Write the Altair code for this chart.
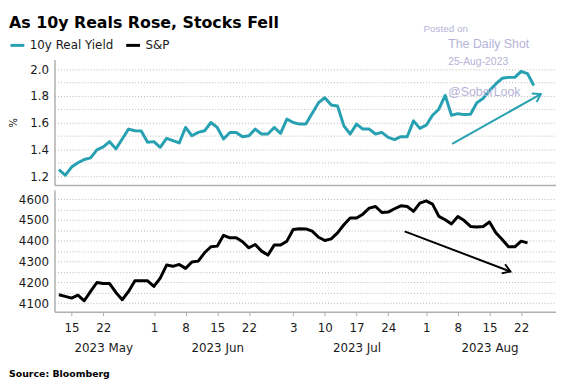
import altair as alt
import pandas as pd

# ---------------- data ----------------
start_date = "2023-05-11"   # first observation (weekday axis)

yield_values = [
    1.249, 1.207, 1.268, 1.300, 1.325, 1.337, 1.397, 1.419, 1.458, 1.404,
    1.478, 1.552, 1.539, 1.537, 1.453, 1.458, 1.416, 1.483, 1.466, 1.448,
    1.564, 1.502, 1.527, 1.539, 1.601, 1.564, 1.478, 1.527, 1.527, 1.495,
    1.502, 1.552, 1.515, 1.515, 1.564, 1.520, 1.626, 1.601, 1.589, 1.589,
    1.670, 1.749, 1.786, 1.732, 1.724, 1.576, 1.515, 1.589, 1.552, 1.552,
    1.515, 1.527, 1.490, 1.473, 1.495, 1.495, 1.613, 1.557, 1.581, 1.655,
    1.700, 1.803, 1.655, 1.667, 1.660, 1.663, 1.749, 1.781, 1.840, 1.889,
    1.931, 1.938, 1.938, 1.983, 1.966, 1.877,
]

spx_values = [
    4140, 4132, 4124, 4138, 4111, 4156, 4199, 4194, 4194, 4151,
    4116, 4156, 4207, 4207, 4207, 4180, 4220, 4283, 4277, 4286,
    4267, 4298, 4302, 4342, 4371, 4374, 4426, 4414, 4414, 4395,
    4366, 4382, 4350, 4331, 4379, 4379, 4398, 4454, 4458, 4457,
    4446, 4417, 4401, 4409, 4438, 4477, 4509, 4509, 4528, 4557,
    4565, 4536, 4538, 4554, 4568, 4565, 4541, 4581, 4592, 4576,
    4517, 4501, 4481, 4517, 4497, 4469, 4466, 4469, 4490, 4438,
    4406, 4371, 4371, 4398, 4390,
]

tick_dates = ["2023-05-15", "2023-05-22", "2023-06-01", "2023-06-08",
              "2023-06-15", "2023-06-22", "2023-07-03", "2023-07-10",
              "2023-07-17", "2023-07-24", "2023-08-01", "2023-08-08",
              "2023-08-15", "2023-08-22"]
month_labels = {"2023-05-22": "2023 May", "2023-06-15": "2023 Jun",
                "2023-07-17": "2023 Jul", "2023-08-15": "2023 Aug"}

yield_ticks = [1.2, 1.3, 1.4, 1.5, 1.6, 1.7, 1.8, 1.9, 2.0]
spx_ticks = [4100, 4150, 4200, 4250, 4300, 4350, 4400, 4450, 4500, 4550, 4600]
series_names = ["10y Real Yield", "S&P"]

# arrows (data units: weekday index, value)
yield_arrow = {"start_i": 62.1, "start_v": 1.442, "end_i": 76.1, "end_v": 1.813}
spx_arrow = {"start_i": 54.6, "start_v": 4445, "end_i": 71.3, "end_v": 4252}

# ---------------- build tables ----------------
dates = pd.bdate_range(start_date, periods=len(yield_values))
df_y = pd.DataFrame({"i": range(len(yield_values)), "value": yield_values,
                     "series": series_names[0]})
df_s = pd.DataFrame({"i": range(len(spx_values)), "value": spx_values,
                     "series": series_names[1]})

date_pos = {d.strftime("%Y-%m-%d"): k for k, d in enumerate(dates)}
tick_pos = [date_pos[d] for d in tick_dates]
expr = ""
for d in tick_dates:
    day = str(pd.Timestamp(d).day)
    lab = f"['{day}','{month_labels[d]}']" if d in month_labels else f"'{day}'"
    expr += f"datum.value == {date_pos[d]} ? {lab} : "
expr += "''"

TEAL = "#27a1b1"
WM = "#b6b3d8"
FONT = "DejaVu Sans"
X_DOM = [-0.7, 78.5]
Y1_DOM = [1.1335, 2.0716]
Y2_DOM = [4058.4, 4644]
one = pd.DataFrame({"k": [0]})


def txt(s, x, y, size, color, weight="normal", baseline="middle", font=FONT):
    return alt.Chart(one).mark_text(
        align="left", baseline=baseline, fontSize=size, fontWeight=weight,
        font=font, color=color
    ).encode(x=alt.value(x), y=alt.value(y), text=alt.value(s))


def arrow(d, color, angle, xs, ys):
    sdf = pd.DataFrame({"i": [d["start_i"]], "value": [d["start_v"]],
                        "i2": [d["end_i"]], "value2": [d["end_v"]]})
    tdf = pd.DataFrame({"i": [d["end_i"]], "value": [d["end_v"]]})
    shaft = alt.Chart(sdf).mark_rule(color=color, strokeWidth=2).encode(
        x=alt.X("i:Q", scale=xs), y=alt.Y("value:Q", scale=ys),
        x2="i2:Q", y2="value2:Q")
    head = alt.Chart(tdf).mark_point(
        shape="M -1 -0.65 L 0 0 L -1 0.65", filled=False, size=230,
        strokeWidth=2, color=color, angle=angle, opacity=1
    ).encode(x=alt.X("i:Q", scale=xs), y=alt.Y("value:Q", scale=ys))
    return shaft + head


xs = alt.Scale(domain=X_DOM, nice=False, zero=False)
ys1 = alt.Scale(domain=Y1_DOM, nice=False, zero=False)
ys2 = alt.Scale(domain=Y2_DOM, nice=False, zero=False)

top_line = alt.Chart(df_y).mark_line(strokeWidth=3, strokeJoin="round").encode(
    x=alt.X("i:Q", scale=xs,
            axis=alt.Axis(labels=False, ticks=False, grid=False, title=None,
                          domain=True)),
    y=alt.Y("value:Q", scale=ys1,
            axis=alt.Axis(values=yield_ticks, tickCount=100, grid=True,
                          ticks=False, labelPadding=6, labelOverlap=False,
                          labelExpr="round(datum.value*10) % 2 == 0 ? format(datum.value, '.1f') : ''",
                          title="%", titleFontSize=10, titlePadding=11,
                          titleFontWeight="normal", titleColor="#1a1a1a")),
    color=alt.Color("series:N",
                    scale=alt.Scale(domain=series_names, range=[TEAL, "black"]),
                    legend=alt.Legend(orient="none", legendX=-46, legendY=-23,
                                      direction="horizontal", title=None,
                                      symbolType="stroke", symbolStrokeWidth=3,
                                      symbolSize=196, labelOffset=4,
                                      columnPadding=6)),
)

top = alt.layer(
    top_line,
    arrow(yield_arrow, TEAL, 330.7, xs, ys1),
    txt("As 10y Reals Rose, Stocks Fell", -46, -32, 16, "black", "bold",
        baseline="alphabetic"),
    txt("Posted on", 373, -31, 10, WM, font="Liberation Sans"),
    txt("The Daily Shot", 398, -15.5, 12.5, WM, font="Liberation Sans"),
    txt("25-Aug-2023", 398, 2.5, 10.5, WM, font="Liberation Sans"),
    txt("@SoberLook", 398, 32.5, 12.5, WM, font="Liberation Sans"),
).properties(width=507, height=127)

bottom_line = alt.Chart(df_s).mark_line(color="black", strokeWidth=3,
                                        strokeJoin="round").encode(
    x=alt.X("i:Q", scale=xs,
            axis=alt.Axis(values=tick_pos, tickCount=100, labelExpr=expr,
                          title=None, grid=False, ticks=True, tickSize=4,
                          labelPadding=7, labelLineHeight=20,
                          labelOverlap=False, labelFlush=False,
                          labelBound=False)),
    y=alt.Y("value:Q", scale=ys2,
            axis=alt.Axis(values=spx_ticks, tickCount=100, grid=True,
                          ticks=False, labelPadding=6, title=None,
                          labelOverlap=False,
                          labelExpr="datum.value % 100 == 0 ? format(datum.value, 'd') : ''")),
)

bottom = alt.layer(
    bottom_line,
    arrow(spx_arrow, "black", 20.7, xs, ys2),
    txt("Source: Bloomberg", -46, 186, 9.5, "black", "bold"),
).properties(width=507, height=123)

chart = alt.vconcat(top, bottom, spacing=5, bounds="flush").resolve_scale(
    color="independent"
).properties(
    padding={"left": 0, "top": 5, "right": 0, "bottom": 0}
).configure_view(stroke=None).configure_axis(
    labelFont=FONT, labelFontSize=12, labelColor="#1a1a1a",
    domainColor="#b0b0b0", domainWidth=1.5,
    gridColor="#b8b8b8", gridDash=[1, 2], gridWidth=1,
    tickColor="#b0b0b0", titleFont=FONT, labelOverlap=False,
).configure_legend(labelFont=FONT, labelFontSize=12, labelColor="#1a1a1a")

chart.save("out.html", embed_options={"renderer": "svg", "actions": False})
